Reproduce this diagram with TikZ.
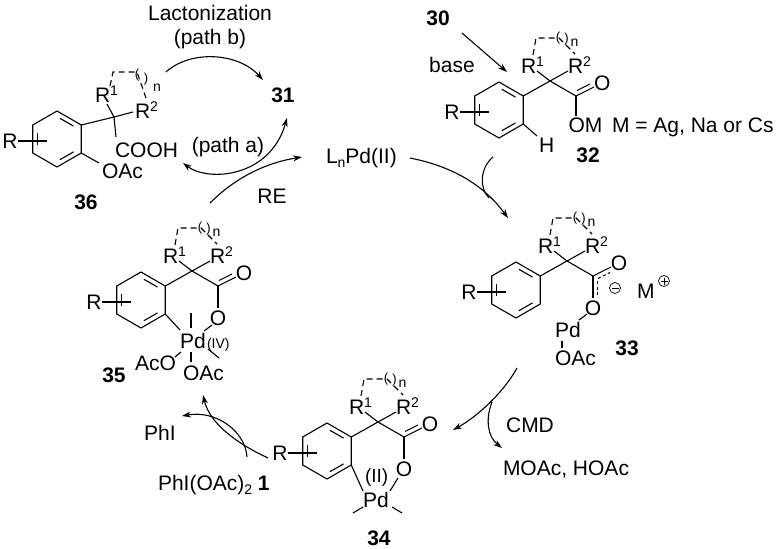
\documentclass[tikz,border=0pt]{standalone}
\usepackage{fontspec}
\setmainfont{Liberation Sans}
\usetikzlibrary{arrows.meta,calc}
\newcommand{\spt}[1]{\raisebox{7pt}{\fontsize{14}{14}\selectfont #1}}
\newcommand{\sbt}[1]{\raisebox{-4pt}{\fontsize{14}{14}\selectfont #1}}
\newcommand{\fs}{\fontsize{21}{25}\selectfont}
\tikzset{
 bond/.style={line width=1.1pt},
 dbd/.style={line width=1.1pt, dash pattern=on 3pt off 2.5pt},
 loopd/.style={line width=1.1pt, dash pattern=on 6pt off 4pt},
 rxn/.style={line width=1.1pt, -{Stealth[length=9pt,width=6pt]}},
 rxnb/.style={line width=1.1pt, {Stealth[length=9pt,width=6pt]}-{Stealth[length=9pt,width=6pt]}},
 lab/.style={anchor=base west, inner sep=0pt, outer sep=0pt, font=\fs},
 labc/.style={anchor=base, inner sep=0pt, outer sep=0pt, font=\fs},
 cmp/.style={anchor=base, inner sep=0pt, outer sep=0pt, font=\fs\bfseries},
 brk/.style={inner sep=0pt, font=\fontsize{13}{13}\selectfont},
 chg/.style={circle, draw, line width=0.7pt, minimum size=11pt, inner sep=0pt},
}
\newcommand{\ring}[3]{%
\begin{scope}[shift={(#2,#3)}]
 \draw[bond] (0,-28) -- (24.25,-14) -- (24.25,14) -- (0,28) -- (-24.25,14) -- (-24.25,-14) -- cycle;
 \draw[bond] (2.9,-20.7) -- (16.5,-12.9);
 \draw[bond] (16.5,12.9) -- (2.9,20.7);
 \draw[bond] (-19.4,6.2) -- (-19.4,-6.2);
 \node[lab] (#1R) at (-54.6,9.5) {R};
 \draw[bond] (-39,2) -- (-10,2);
 \coordinate (#1V1) at (24.25,-14);
 \coordinate (#1V2) at (24.25,14);
\end{scope}}
\newcommand{\core}[3]{%
\ring{#1}{#2}{#3}
\begin{scope}[shift={(#2,#3)}]
 \begin{scope}[shift={(51,-29)}]
  \coordinate (#1C) at (0,0);
  \coordinate (#1Cc) at (26,15);
  \draw[bond] (-26.75,15) -- (0,0) -- (26,15);
  \draw[bond] (-13,-10) -- (0,0) -- (18,-10);
  \node[lab] (#1Ra) at (-29,-7.5) {R\spt{1}};
  \node[lab] (#1Rb) at (18,-7.5) {R\spt{2}};
  \draw[loopd] (-17,-26) -- (-14,-43) -- (9,-43) -- (25,-27);
  \node[brk] (#1ba) at (8,-43) {(};
  \node[brk] (#1bb) at (16.5,-41.5) {)};
  \node[lab,font=\fontsize{14}{14}\selectfont] (#1n) at (20.5,-35) {n};
 \end{scope}
\end{scope}}
\newcommand{\codbl}[1]{%
 \draw[bond] (#1) -- ($(#1)+(18,-9)$);
 \draw[bond] ($(#1)+(1,-5.5)$) -- ($(#1)+(14,-12)$);}
\begin{document}
\begin{tikzpicture}[x=1pt,y=-1pt]
\useasboundingbox (0,0) rectangle (780,549);

% ---------------- 36
\ring{s}{57}{139}
\coordinate (sC) at (114,117);
\draw[bond] (sV1) -- (sC);
\draw[bond] (107,104) -- (sC) -- (133,112);
\draw[bond] (sC) -- (116,137);
\node[lab] (sRa) at (95,102) {R\spt{1}};
\node[lab] (sRb) at (135,118) {R\spt{2}};
\node[lab] (scooh) at (115,157) {COOH};
\draw[bond] (sV2) -- (99,163);
\node[lab] (soac) at (102,178) {OAc};
\draw[loopd] (110,86) -- (113,72) -- (137,72) -- (146,98);
\node[brk] (sba) at (137,75) {(};
\node[brk] (sbb) at (146,79) {)};
\node[lab,font=\fontsize{14}{14}\selectfont] (sn) at (153,91) {n};
\node[cmp] (n36) at (86,209) {36};

% ---------------- 32
\core{a}{499}{110}
\codbl{aCc}
\node[lab] (aO) at (594,90.5) {O};
\draw[bond] (aCc) -- ($(aCc)+(0,20)$);
\node[lab] (aOM) at (568.5,132) {OM};
\node[lab] (aMdef) at (612,132) {M = Ag, Na or Cs};
\draw[bond] (aV2) -- (537,136);
\node[lab] (aH) at (539,152) {H};
\node[cmp] (n32) at (588,162) {32};

% ---------------- 33
\core{b}{516}{290}
\draw[bond] (bCc) -- ($(bCc)+(18,-9)$);
\draw[dbd] ($(bCc)+(5,2.5)$) -- ($(bCc)+(17,-3.5)$);
\node[lab] (bO) at (610.8,270.5) {O};
\draw[bond] (bCc) -- ($(bCc)+(0,22)$);
\draw[dbd] ($(bCc)+(4.5,5)$) -- ($(bCc)+(4.5,21)$);
\node[lab] (bO2) at (584.8,315.5) {O};
\node[chg] (bminus) at (615,288) {};
\draw[line width=0.7pt] ($(bminus.center)+(-3.5,0)$) -- ($(bminus.center)+(3.5,0)$);
\node[lab] (bM) at (637,298) {M};
\node[chg] (bplus) at (664,281) {};
\draw[line width=0.7pt] ($(bplus.center)+(-3.5,0)$) -- ($(bplus.center)+(3.5,0)$);
\draw[line width=0.7pt] ($(bplus.center)+(0,-3.5)$) -- ($(bplus.center)+(0,3.5)$);
\draw[bond] (587,314) -- (579,320);
\node[lab] (bPd) at (555,337) {Pd};
\draw[bond] (562,341) -- (562,348);
\node[lab] (bOAc) at (555,365) {OAc};
\node[cmp] (n33) at (627,355) {33};

% ---------------- 34
\core{c}{327}{451}
\codbl{cCc}
\node[lab] (cO) at (421.8,431.5) {O};
\draw[bond] (cCc) -- ($(cCc)+(0,22)$);
\node[lab] (cO2) at (395.8,476.5) {O};
\node[lab,font=\fontsize{19}{22}\selectfont] (cII) at (365,482) {(II)};
\node[lab] (cPd) at (363,507) {Pd};
\draw[bond] (cV2) -- (363,491);
\draw[bond] (398,478) -- (390,491);
\draw[bond] (353,513) -- (363,507);
\draw[bond] (392,507) -- (402,513);
\node[cmp] (n34) at (379,545) {34};

% ---------------- 35
\core{d}{141}{300}
\codbl{dCc}
\node[lab] (dO) at (235.8,280.5) {O};
\draw[bond] (dCc) -- ($(dCc)+(0,22)$);
\node[lab] (dO2) at (209.8,325.5) {O};
\node[lab] (dPd) at (180,348.5) {Pd};
\node[lab,font=\fontsize{14}{14}\selectfont] (dIV) at (207,348) {(IV)};
\draw[bond] (dV2) -- (180,330);
\draw[bond] (212,325) -- (204,331);
\draw[bond] (191,313) -- (191,328);
\draw[bond] (208,349) -- (219,358);
\node[lab] (dAcO) at (135,370) {AcO};
\draw[bond] (175,357) -- (181,352);
\draw[bond] (191,352) -- (191,362);
\node[lab] (dOAc) at (183,380) {OAc};
\node[cmp] (n35) at (114,382) {35};

% ---------------- texts
\node[labc] (lact) at (210,20) {Lactonization};
\node[labc] (pathb) at (210,44) {(path b)};
\node[cmp] (n31) at (283,102) {31};
\node[labc] (patha) at (228,152) {(path a)};
\node[labc] (re) at (272,203) {RE};
\node[lab] (lpd) at (326,163) {L\sbt{n}Pd(II)};
\node[cmp] (n30) at (438,25) {30};
\node[labc] (base) at (452,72) {base};
\node[labc] (cmd) at (530,432) {CMD};
\node[lab] (moac) at (503,475) {MOAc, HOAc};
\node[labc] (phi) at (160,440) {PhI};
\node[lab] (phioac) at (158,490) {PhI(OAc)\sbt{2} \textbf{1}};

% ---------------- arrows
\coordinate (pb1) at (166,72); \coordinate (pb2) at (263,80);
\draw[rxn] (pb1) .. controls (190,50) and (238,52) .. (pb2);
\coordinate (pa1) at (183,163); \coordinate (pa2) at (287,118);
\draw[rxnb] (pa1) .. controls (208,182) and (270,178) .. (pa2);
\coordinate (re1) at (210,203); \coordinate (re2) at (302,157);
\draw[rxn] (re1) .. controls (235,178) and (265,163) .. (re2);
\coordinate (m1) at (410,158); \coordinate (m2) at (508,218);
\draw[rxn] (m1) .. controls (445,165) and (480,180) .. (m2);
\coordinate (s1) at (493,157); \coordinate (s2) at (489,198);
\draw[bond] (s1) .. controls (480,168) and (479,188) .. (s2);
\coordinate (b1) at (462,33); \coordinate (b2) at (507,72);
\draw[rxn] (b1) -- (b2);
\coordinate (c1) at (517,368); \coordinate (c2) at (453,430);
\draw[rxn] (c1) .. controls (505,390) and (480,415) .. (c2);
\coordinate (c3) at (492,402); \coordinate (c4) at (502,448);
\draw[rxn] (c3) .. controls (485,420) and (488,437) .. (c4);
\coordinate (e1) at (268,458); \coordinate (e2) at (203,395);
\draw[rxn] (e1) .. controls (240,445) and (210,425) .. (e2);
\coordinate (f1) at (247,457); \coordinate (f2) at (182,416);
\draw[rxn] (f1) .. controls (245,430) and (215,410) .. (f2);
\end{tikzpicture}
\end{document}
